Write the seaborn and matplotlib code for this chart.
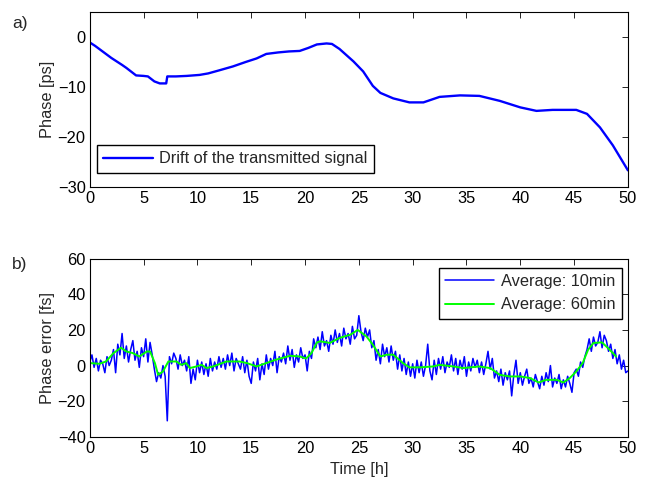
import numpy as np
import pandas as pd
import matplotlib
matplotlib.use('Agg')
import matplotlib.pyplot as plt
import seaborn as sns

# --- data ---
drift_t = [0, 0.5, 1, 2, 3, 3.4, 4.3, 5.0, 5.4, 6.0, 6.5, 7.1, 7.2, 8, 9, 10.2, 11, 12,
           13.3, 14.5, 15.5, 16.4, 17.5, 18.5, 19.5, 20.3, 21.1, 22.0, 22.5, 23.2, 24.5,
           25.4, 26.3, 27.0, 28.2, 29.7, 31.0, 32.5, 34.4, 36.2, 38.1, 40.0, 41.5, 43.0,
           45.2, 46.2, 47.4, 48.6, 50]
drift_ps = [-1.1, -1.8, -2.6, -4.2, -5.6, -6.2, -7.7, -7.8, -7.9, -8.9, -9.3, -9.3, -7.9,
            -7.9, -7.8, -7.6, -7.3, -6.7, -5.9, -5.0, -4.3, -3.4, -3.1, -2.9, -2.8, -2.2,
            -1.5, -1.3, -1.4, -2.4, -4.9, -6.9, -9.8, -11.2, -12.3, -13.1, -13.1, -12.0,
            -11.7, -11.8, -12.8, -14.1, -14.8, -14.6, -14.6, -15.4, -18.1, -21.7, -26.7]

# 10 min average, one value every 0.2 h from 0 to 50 h
avg10_fs = [2, 6, -1, 4, -3, 3, 1, -4, 5, 0,
            3, 9, -4, 12, 6, 18, 4, 11, 2, 9,
            14, 3, 8, -1, 10, 5, 15, 2, 13, 6,
            -2, -9, -4, -7, 0, -6, -31, 5, 1, 7,
            4, -2, 6, 0, 3, -3, 5, -10, -2, -8,
            3, -4, 2, -5, 1, -6, 4, -3, 2, -2,
            5, -1, 4, -2, 6, 0, 7, -3, 4, 1,
            -2, 5, -4, 3, -6, -10, 2, -3, 4, -8,
            1, -5, 6, -2, 4, 0, 8, -4, 5, 2,
            7, 1, 11, 3, 9, -1, 6, 2, 10, 4,
            6, -3, 8, 4, 15, 10, 16, 9, 19, 11,
            14, 8, 17, 12, 20, 13, 18, 11, 21, 15,
            18, 12, 22, 15, 17, 28, 19, 14, 21, 16,
            20, 10, 14, 3, 9, 1, 12, 5, 10, 2,
            11, 3, 8, -2, 6, -3, 4, -5, 2, -6,
            1, -7, 3, -4, 2, -6, 0, 12, -3, -8,
            3, -5, 4, -2, 5, -4, 2, -1, 6, -3,
            4, -5, 3, -2, 5, -6, 2, -3, 4, -1,
            3, -4, 2, -5, 1, 8, -2, 4, -7, -3,
            -9, -2, -11, -4, -8, -3, -17, -5, 3, -10,
            -4, -11, -6, -2, -10, -7, -12, -5, -9, -13,
            -6, -11, -4, -9, 0, -12, -7, -10, -5, -13,
            -8, -12, -6, -10, -15, -4, -2, -6, 2, -1,
            5, 9, 15, 8, 16, 11, 13, 19, 10, 17,
            14, 8, 12, 4, 9, 1, 6, -2, 3, -4,
            -3]
avg10_t = np.linspace(0, 50, len(avg10_fs))

avg60_t = [0, 0.9, 1.5, 2.2, 2.9, 3.4, 4.0, 4.6, 5.3, 5.6, 6.05, 6.35, 6.8, 7.3, 8.05,
           8.5, 8.95, 9.3, 9.9, 10.4, 10.85, 11.45, 12.7, 13.9, 14.6, 15.5, 16.4, 17.3,
           18.6, 19.5, 20.1, 20.6, 21.1, 21.4, 22.3, 23.2, 24.2, 24.9, 25.7, 26.3, 27.0,
           27.6, 28.2, 29.1, 29.7, 30.7, 31.9, 32.5, 33.8, 34.7, 36.2, 37.2, 38.1, 39.0,
           40.0, 40.9, 41.7, 42.4, 43.4, 44.0, 44.6, 45.2, 45.8, 46.3, 46.8, 47.6, 48.3,
           48.9]
avg60_fs = [1.4, 1.0, 2.3, 7.0, 10.0, 7.9, 7.0, 5.1, 7.9, 7.9, 1.4, -5.2, -3.3, 2.3, 2.3,
            0.4, 1.4, -1.4, -0.5, 0.4, -1.4, -0.5, 2.3, 2.3, 1.4, -0.5, 1.4, 3.3,
            5.5, 5.1, 4.0, 7.0, 13.0, 13.6, 12.7, 15.5, 17.3, 20.0, 16.4, 11.7, 5.1,
            6.1, 6.1, 1.4, -1.0, -1.0, -0.5, 0.4, -0.5, -1.4, -0.5, -1.4, -5.2, -6.1,
            -6.1, -7.0, -9.5, -8.0, -8.0, -9.5, -7.0, -3.3, 1.4, 8.9, 12.7, 13.0, 8.9,
            5.1]

drift = pd.DataFrame({'t': drift_t, 'v': drift_ps})
avg10 = pd.DataFrame({'t': avg10_t, 'v': avg10_fs})
avg60 = pd.DataFrame({'t': avg60_t, 'v': avg60_fs})

sns.set_style('white')
plt.rcParams['font.family'] = ['Liberation Sans', 'DejaVu Sans']
plt.rcParams['font.size'] = 11.8
plt.rcParams['xtick.direction'] = 'in'
plt.rcParams['ytick.direction'] = 'in'

fig = plt.figure(figsize=(6.46, 4.79), dpi=100)
ax1 = fig.add_axes([0.139, 0.610, 0.833, 0.365])
ax2 = fig.add_axes([0.139, 0.088, 0.833, 0.372])

sns.lineplot(data=drift, x='t', y='v', ax=ax1, color='#0000ff', lw=1.7,
             estimator=None, sort=False, label='Drift of the transmitted signal')
ax1.set_xlim(0, 50)
ax1.set_ylim(-30, 5)
ax1.set_yticks([-30, -20, -10, 0])
ax1.set_xticks(range(0, 51, 5))
ax1.set_xlabel('')
ax1.set_ylabel('Phase [ps]', labelpad=2)
ax1.legend(loc='lower left', bbox_to_anchor=(0.013, 0.08), fancybox=False,
           edgecolor='black', framealpha=1, handlelength=3.0, handletextpad=0.4,
           borderaxespad=0, borderpad=0.4)

sns.lineplot(data=avg10, x='t', y='v', ax=ax2, color='#0000ff', lw=1.1,
             estimator=None, sort=False, label='Average: 10min')
sns.lineplot(data=avg60, x='t', y='v', ax=ax2, color='#00ff00', lw=1.4,
             estimator=None, sort=False, label='Average: 60min')
ax2.set_xlim(0, 50)
ax2.set_ylim(-40, 60)
ax2.set_yticks([-40, -20, 0, 20, 40, 60])
ax2.set_xticks(range(0, 51, 5))
ax2.set_xlabel('Time [h]', labelpad=4)
ax2.set_ylabel('Phase error [fs]', labelpad=2)
ax2.legend(loc='upper right', bbox_to_anchor=(0.989, 0.95), fancybox=False,
           edgecolor='black', framealpha=1, handlelength=3.0, handletextpad=0.4,
           borderaxespad=0, borderpad=0.4, labelspacing=0.5)

for ax in (ax1, ax2):
    for s in ax.spines.values():
        s.set_color('black')
        s.set_linewidth(0.8)
    ax.tick_params(top=True, right=True, length=4, width=0.6, colors='black',
                   labelsize=11.8, pad=3)
    ax.get_legend().get_frame().set_linewidth(1.0)

fig.text(0.019, 0.950, 'a)', fontsize=12.5, va='center')
fig.text(0.019, 0.447, 'b)', fontsize=12.5, va='center')

fig.savefig('out.png', dpi=100)
